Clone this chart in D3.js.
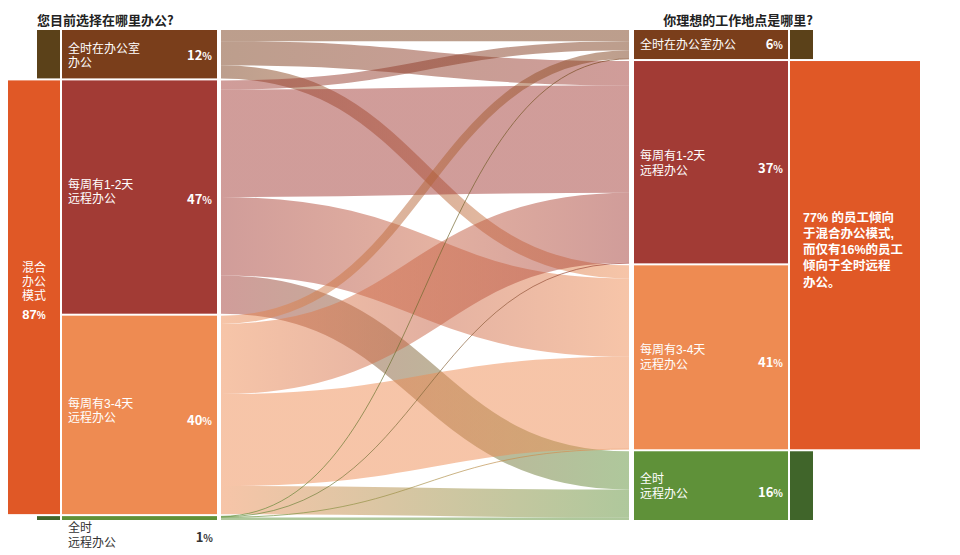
<!DOCTYPE html>
<html><head><meta charset="utf-8">
<script src="https://cdn.jsdelivr.net/npm/d3@7"></script>
<style>
html,body{margin:0;padding:0;background:#fff;}
svg{display:block;font-family:"Noto Sans CJK SC","Noto Sans",sans-serif;}
.ml{font-family:"Liberation Sans","Noto Sans CJK SC",sans-serif;}
</style></head>
<body>
<svg id="chart" width="960" height="555"></svg>
<script>
// ---------- data ----------
const leftTitle = "您目前选择在哪里办公?";
const rightTitle = "你理想的工作地点是哪里?";
const categories = ["全时在办公室办公", "每周有1-2天远程办公", "每周有3-4天远程办公", "全时远程办公"];
const leftLabels = [["全时在办公室", "办公"], ["每周有1-2天", "远程办公"], ["每周有3-4天", "远程办公"], ["全时", "远程办公"]];
const rightLabels = [["全时在办公室办公"], ["每周有1-2天", "远程办公"], ["每周有3-4天", "远程办公"], ["全时", "远程办公"]];
const leftPct = [12, 47, 40, 1];
const rightPct = [6, 37, 41, 16];
const flowsFromOffice = [2.3, 5.0, 2.7, 0];
const flowsFrom12 = [1.9, 22.2, 16.2, 7.9];
const flowsFrom34 = [1.7, 14.5, 19.0, 5.8];
const flowsFromRemote = [0.1, 0.1, 0.1, 0.5];
const flows = [flowsFromOffice, flowsFrom12, flowsFrom34, flowsFromRemote];
const groupLeftLabel = ["混合", "办公", "模式"];
const groupLeftPct = 87;
const noteLines = ["77% 的员工倾向", "于混合办公模式,", "而仅有16%的员工", "倾向于全时远程", "办公。"];

// ---------- styles ----------
const nodeColors = ["#7a3e1b", "#a23b35", "#ee8b52", "#5f9139"];
const outerColors = {office: "#5b4119", hybrid: "#e05826", remote: "#40652a"};

const svg = d3.select("#chart");
const yTop = 30, yBottom = 520, gap = 2;
const total = d3.sum(flows.flat());
const k = d3.scaleLinear().domain([0, total]).range([0, (yBottom - yTop) - 3 * gap]);

const X = {lOut0: 37, lOrange0: 8, lOut1: 60, lN0: 62, lN1: 217, link0: 221, link1: 629,
           rN0: 634, rN1: 788, rOut0: 790, rOut1: 813, rOrange1: 920};

const n = categories.length;
const leftTot = d3.range(n).map(i => d3.sum(flows[i]));
const rightTot = d3.range(n).map(j => d3.sum(flows, r => r[j]));
function stack(tots) {
  let y = yTop; return tots.map(v => { const y0 = y; const y1 = y0 + k(v); y = y1 + gap; return {y0, y1}; });
}
const L = stack(leftTot), R = stack(rightTot);

// links
const links = [];
const sOff = L.map(d => d.y0), tOff = R.map(d => d.y0);
for (let i = 0; i < n; i++) for (let j = 0; j < n; j++) {
  const v = flows[i][j]; if (!v) continue;
  const w = k(v);
  links.push({i, j, w, sy: sOff[i] + w / 2});
  sOff[i] += w;
}
for (let j = 0; j < n; j++) for (let i = 0; i < n; i++) {
  const l = links.find(d => d.i === i && d.j === j); if (!l) continue;
  l.ty = tOff[j] + l.w / 2; tOff[j] += l.w;
}

const defs = svg.append("defs");
links.forEach((l, idx) => {
  const g = defs.append("linearGradient").attr("id", "g" + idx)
    .attr("gradientUnits", "userSpaceOnUse").attr("x1", X.link0).attr("x2", X.link1).attr("y1", 0).attr("y2", 0);
  g.append("stop").attr("offset", "0%").attr("stop-color", nodeColors[l.i]);
  g.append("stop").attr("offset", "100%").attr("stop-color", nodeColors[l.j]);
});
const linkGen = d3.linkHorizontal().x(d => d[0]).y(d => d[1]);
svg.append("g").selectAll("path").data(links).join("path")
  .attr("d", l => linkGen({source: [X.link0, l.sy], target: [X.link1, l.ty]}))
  .attr("fill", "none")
  .attr("stroke", (l, idx) => `url(#g${idx})`)
  .attr("stroke-width", l => Math.max(0.9, l.w))
  .attr("stroke-opacity", l => l.w < 2 ? 0.75 : 0.5);

// nodes
svg.append("g").selectAll("rect").data(L).join("rect")
  .attr("x", X.lN0).attr("width", X.lN1 - X.lN0).attr("y", d => d.y0).attr("height", d => d.y1 - d.y0)
  .attr("fill", (d, i) => nodeColors[i]);
svg.append("g").selectAll("rect").data(R).join("rect")
  .attr("x", X.rN0).attr("width", X.rN1 - X.rN0).attr("y", d => d.y0).attr("height", d => d.y1 - d.y0)
  .attr("fill", (d, i) => nodeColors[i]);

// outer group bars
function outer(x0, x1, y0, y1, c) { svg.append("rect").attr("x", x0).attr("y", y0).attr("width", x1 - x0).attr("height", y1 - y0).attr("fill", c); }
outer(X.lOut0, X.lOut1, L[0].y0, L[0].y1, outerColors.office);
outer(X.lOrange0, X.lOut1, L[1].y0, L[2].y1, outerColors.hybrid);
outer(X.lOut0, X.lOut1, L[3].y0, L[3].y1, outerColors.remote);
outer(X.rOut0, X.rOut1, R[0].y0, R[0].y1, outerColors.office);
outer(X.rOut0, X.rOrange1, R[1].y0, R[2].y1, outerColors.hybrid);
outer(X.rOut0, X.rOut1, R[3].y0, R[3].y1, outerColors.remote);

// text helpers
function pctText(x, cy, val, color, anchor) {
  const t = svg.append("text").attr("x", x).attr("y", cy + 4.7).attr("text-anchor", anchor || "end")
    .attr("fill", color).attr("font-weight", "bold").attr("font-size", 13);
  t.append("tspan").text(val);
  t.append("tspan").attr("font-size", 10).text("%");
}
// multi-line label as one text element with tspans
function lines(x, firstCenter, step, arr, color, opts) {
  opts = opts || {};
  const t = svg.append("text").attr("class", "ml").attr("x", x).attr("y", firstCenter + 4.4)
    .attr("fill", color).attr("font-size", opts.size || 12)
    .attr("font-weight", opts.weight || "normal")
    .attr("text-anchor", opts.anchor || "start");
  arr.forEach((s, i) => t.append("tspan").attr("x", x).attr("dy", i === 0 ? 0 : step).text(s));
  return t;
}
const mid = d => (d.y0 + d.y1) / 2;

// titles
svg.append("text").attr("x", 37).attr("y", 25).attr("font-size", 13).attr("font-weight", "bold").attr("fill", "#222").text(leftTitle);
svg.append("text").attr("x", X.rOut1).attr("y", 25).attr("text-anchor", "end").attr("font-size", 13).attr("font-weight", "bold").attr("fill", "#222").text(rightTitle);

// left node labels: [first line dy, pct dy] from node centre
const leftLabelDy = [[-6, 1], [-12.5, 2.5], [-11.5, 5.5]];
for (let i = 0; i < 3; i++) {
  const c = mid(L[i]);
  lines(X.lN0 + 6, c + leftLabelDy[i][0], 14.5, leftLabels[i], "#fff");
  pctText(X.lN1 - 5, c + leftLabelDy[i][1], leftPct[i], "#fff");
}
lines(X.lN0 + 6, L[3].y1 + 8, 15, leftLabels[3], "#333");
pctText(X.lN1 - 4, L[3].y1 + 17.5, leftPct[3], "#333");

// right node labels
lines(X.rN0 + 6, mid(R[0]), 15, rightLabels[0], "#fff");
pctText(X.rN1 - 5, mid(R[0]), rightPct[0], "#fff");
const rightLabelDy = [null, [-7, 6], [-8, 5], [-7.5, 7]];
for (let j = 1; j < 4; j++) {
  const c = mid(R[j]);
  lines(X.rN0 + 6, c + rightLabelDy[j][0], 15, rightLabels[j], "#fff");
  pctText(X.rN1 - 5, c + rightLabelDy[j][1], rightPct[j], "#fff");
}

// left group label (one text element)
const gc = (L[1].y0 + L[2].y1) / 2;
const gx = (X.lOrange0 + X.lOut1) / 2;
const gt = lines(gx, gc - 30, 14, groupLeftLabel, "#fff", {anchor: "middle"});
const pt = gt.append("tspan").attr("x", gx).attr("dy", 19).attr("font-weight", "bold").attr("font-size", 13);
pt.append("tspan").text(groupLeftPct);
pt.append("tspan").attr("font-size", 10).text("%");

// right note
const rc = (R[1].y0 + R[2].y1) / 2;
lines(X.rOut0 + 13, rc - 38 + 0.2, 16.2, noteLines, "#fff", {size: 12.5, weight: "bold"});
</script>
</body></html>
